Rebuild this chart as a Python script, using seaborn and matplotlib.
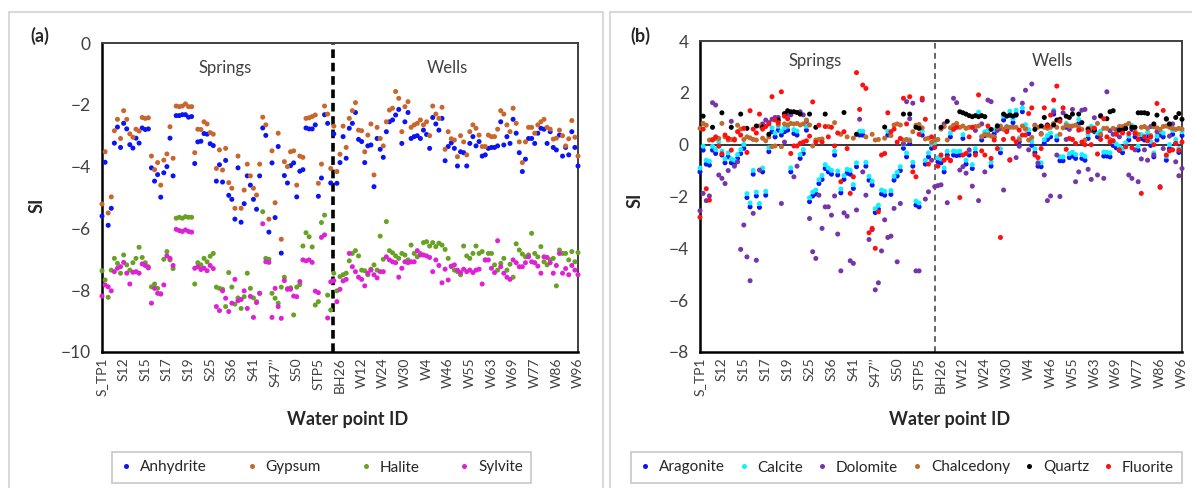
import numpy as np
import pandas as pd
import matplotlib
matplotlib.use("Agg")
import matplotlib.pyplot as plt
from matplotlib.lines import Line2D
from matplotlib.patches import Rectangle
import seaborn as sns

# --- Data: saturation indices ---
tick_labels = ["S_TP1", "S12", "S15", "S17", "S19", "S25", "S36", "S41", "S47\u2019\u2019",
               "S50", "STP5", "BH26", "W12", "W24", "W30", "W4", "W46", "W55", "W63",
               "W69", "W77", "W86", "W96"]

# panel (a)
anh_springs = [-5.6, -3.86, -5.9, -5.35, -3.24, -2.72, -3.38, -2.6, -2.78, -3.29,
               -3.4, -3.08, -3.24, -2.75, -2.8, -2.78, -4.04, -4.47, -4.26, -4.99,
               -4.2, -4.0, -3.08, -4.3, -2.35, -2.35, -2.32, -2.32, -2.4, -2.38,
               -3.9, -3.2, -3.18, -2.93, -2.95, -3.26, -3.32, -4.47, -3.94, -4.5,
               -3.8, -4.93, -5.06, -5.7, -4.04, -5.8, -5.2, -4.3, -4.6, -5.06,
               -5.38, -4.3, -2.75, -2.99, -6.12, -3.88, -5.65, -3.35, -6.8, -4.29,
               -4.53, -3.97, -3.88, -4.98, -4.15, -4.1, -2.75, -2.78, -2.78, -2.65,
               -4.96, -4.37, -2.32, -2.6, -4.53]
anh_wells = [-2.94, -4.54, -3.87, -3.03, -3.73, -2.76, -2.6, -2.25, -3.12, -3.19,
             -3.87, -3.33, -3.3, -4.65, -3.09, -3.44, -3.7, -2.87, -2.55, -2.49,
             -2.33, -2.15, -3.25, -2.55, -2.25, -3.09, -3.03, -3.0, -3.09, -2.82,
             -2.96, -3.41, -2.41, -2.62, -2.82, -2.44, -3.81, -3.35, -3.23, -3.41,
             -3.98, -3.52, -3.55, -3.98, -3.25, -3.03, -3.33, -3.19, -3.66, -3.62,
             -3.41, -3.38, -3.38, -3.33, -2.55, -3.3, -3.03, -3.25, -2.47, -2.92,
             -3.55, -4.16, -3.76, -3.09, -3.09, -3.25, -2.92, -2.76, -2.79, -3.25,
             -2.87, -3.38, -3.46, -2.98, -3.66, -3.38, -3.62, -2.87, -3.38, -3.98]
gyp_springs = [-5.21, -3.52, -5.5, -4.98, -2.84, -2.47, -3.09, -2.19, -2.47, -2.94,
               -3.05, -2.79, -2.85, -2.41, -2.44, -2.42, -3.66, -4.1, -3.87, -4.6,
               -3.79, -3.59, -2.71, -3.73, -2.04, -2.06, -2.04, -1.97, -2.06, -2.06,
               -3.55, -2.79, -2.8, -2.55, -2.62, -2.9, -2.95, -4.06, -3.46, -4.11,
               -3.41, -4.52, -4.7, -5.35, -3.66, -5.35, -4.76, -3.92, -4.3, -4.7,
               -4.92, -3.92, -2.4, -2.65, -5.7, -3.49, -5.17, -2.92, -6.35, -3.84,
               -4.0, -3.52, -3.49, -4.6, -3.66, -3.7, -2.44, -2.42, -2.38, -2.33,
               -4.54, -3.92, -2.04, -2.3, -4.06]
gyp_wells = [-2.69, -4.16, -3.6, -2.69, -3.38, -2.44, -2.19, -1.93, -2.82, -2.84,
             -3.52, -2.98, -2.62, -4.27, -2.73, -3.09, -3.33, -2.55, -2.17, -2.11,
             -1.57, -1.79, -2.87, -2.06, -1.9, -2.73, -2.65, -2.6, -2.49, -2.65,
             -2.55, -3.0, -2.04, -2.3, -2.44, -2.08, -3.44, -2.87, -3.1, -3.14,
             -3.68, -3.0, -3.2, -3.62, -2.87, -2.65, -2.76, -2.98, -3.35, -3.35,
             -2.98, -3.03, -3.03, -2.79, -2.19, -2.3, -2.65, -2.87, -2.11, -2.6,
             -3.2, -3.87, -3.2, -2.73, -2.73, -2.92, -2.65, -2.55, -2.47, -2.73,
             -2.79, -3.11, -3.08, -2.82, -3.0, -3.33, -3.1, -2.51, -3.05, -3.66]
hal_springs = [-7.37, -7.67, -8.23, -7.35,
               -6.97, -7.13, -7.45, -6.86, -7.18, -7.35, -7.11, -6.97, -6.61, -6.94, -7.11, -7.24,
               -7.89, -7.8, -7.94, -8.12, -7.0, -6.75, -7.02, -7.3,
               -5.67, -5.64, -5.67, -5.62, -5.64, -5.64,
               -7.8, -7.11, -7.18, -6.97, -7.08, -6.9, -6.81,
               -7.9, -7.94, -7.97, -8.53, -7.43, -7.9, -8.45, -8.25, -8.59, -8.21, -7.45, -7.94,
               -8.25, -8.37, -8.1,
               -5.46, -6.97, -7.0,
               -8.1, -8.26, -8.42, -7.9, -7.58, -7.95, -7.92, -8.8, -7.9,
               -7.82, -6.57, -6.14, -6.27, -6.6, -8.48, -8.37, -5.81, -5.57, -8.16, -8.64]
hal_wells = [-7.45, -8.02, -7.56, -7.5, -7.45, -7.05, -6.81, -6.72, -6.89, -7.35,
             -7.37, -7.5, -7.32, -7.18, -7.35, -6.25, -7.0, -5.78, -6.72, -6.79,
             -6.89, -6.97, -6.81, -6.86, -7.02, -6.54, -6.81, -6.92, -6.81, -6.46,
             -6.43, -6.57, -6.46, -6.59, -6.48, -6.54, -6.68, -6.97, -7.24, -7.35,
             -7.4, -7.5, -6.57, -6.89, -6.97, -6.81, -6.57, -6.81, -6.75, -7.02,
             -6.81, -6.81, -7.18, -7.35, -7.13, -6.97, -7.35, -7.16, -7.58, -6.5,
             -6.7, -6.83, -6.92, -6.86, -6.16, -6.81, -6.92, -6.59, -7.08, -7.18,
             -7.02, -6.97, -7.86, -6.7, -6.81, -6.81, -7.02, -6.75, -7.08, -6.78]
syl_springs = [-8.19, -7.83, -7.89, -8.02,
               -7.4, -7.29, -7.24, -7.1, -7.45, -7.8, -7.42, -7.4, -7.45, -7.15, -7.2, -7.28,
               -8.42, -7.94, -8.1, -8.12, -7.83, -6.89, -6.97, -7.2,
               -6.03, -6.07, -6.1, -6.05, -6.1, -6.12,
               -7.29, -7.24, -7.33, -7.29, -7.37, -7.2, -7.3,
               -8.53, -8.66, -8.02, -8.26, -8.69, -8.42, -7.65, -8.34, -8.3, -8.02, -8.59, -8.2,
               -8.88, -8.4, -8.1,
               -5.85, -7.08, -7.1,
               -8.88, -7.94, -8.53, -8.91, -7.69, -7.97, -7.97, -8.19, -8.21,
               -7.72, -7.02, -7.05, -7.02, -7.1, -8.03, -8.08, -6.29, -6.21, -8.9, -7.73]
syl_wells = [-7.69, -8.37, -7.97, -7.7, -7.65, -6.81, -7.24, -7.4, -7.58, -7.65,
             -7.86, -7.45, -7.35, -7.5, -7.6, -7.4, -7.4, -6.92, -7.02, -7.08,
             -7.11, -7.58, -7.29, -7.08, -7.11, -7.08, -7.08, -6.72, -6.86, -6.86,
             -6.89, -6.94, -7.4, -7.02, -7.2, -7.76, -7.32, -7.67, -7.22, -7.18,
             -7.35, -7.43, -7.32, -7.4, -7.35, -7.43, -7.35, -7.32, -7.8, -7.02,
             -7.02, -7.29, -7.43, -6.4, -7.24, -7.45, -7.58, -7.65, -7.02, -7.11,
             -7.24, -7.24, -7.11, -6.92, -7.08, -7.11, -7.22, -7.45, -6.92, -6.94,
             -7.11, -7.45, -7.2, -6.81, -7.45, -7.3, -7.5, -7.2, -7.35, -7.5]

# panel (b)
ara_springs = [-1.05, -0.21, -0.75, -0.79, -0.21, -0.34, -0.05, -0.4, -0.7, -0.47,
               -0.7, -0.75, -0.53, -0.34, -0.14, -2.04, -2.4, -1.14, -1.98, -2.42,
               -1.05, -1.95, -0.27, 0.5, 0.3, 0.56, 0.37, 0.5, 0.56, -1.05,
               0.43, 0.37, -0.53, -0.34, 0.56, -2.2, -1.98, -1.9, -1.5, -1.34,
               -0.92, -1.05, -1.14, -0.4, -1.17, -1.86, -1.34, -1.1, -1.14, -1.69,
               -0.85, 0.37, 0.37, -0.83, -1.37, -1.56, -2.62, -2.49, -1.9, -1.95,
               0.37, -1.92, -1.37, -1.21, -1.0, -0.14, -0.47, 0.04, -0.83, -2.33,
               -2.4, 0.37, -0.75, -0.47, -0.14]
ara_wells = [-0.08, -0.66, -0.7, -1.05, -0.4, 0.3, -0.4, -0.42, -0.4, 0.24,
             -0.75, -0.4, -0.92, -0.31, 1.1, 0.18, 0.35, 0.4, -0.83, 0.42,
             0.59, -0.31, 0.95, 0.56, 1.14, 0.85, 1.18, 0.11, 1.27, 0.62,
             0.43, -0.03, -0.31, -0.83, -0.85, 0.05, 0.2, 0.3, 1.18, 0.18,
             -0.62, -0.62, 0.67, -0.5, -0.44, -0.53, 0.82, -0.53, -0.6, 0.24,
             0.56, 0.5, 0.3, 0.37, -0.44, -0.44, -0.47, -0.03, -0.12, -0.22,
             -0.31, -0.08, 0.18, 0.59, 0.3, -0.21, 0.24, 0.18, 0.33, -0.03,
             -0.47, 0.18, 0.37, 0.3, -0.6, -0.15, 0.4, 0.05, -0.3, 0.35]
cal_springs = [-0.9, -0.06, -0.6, -0.64, -0.06, -0.19, 0.1, -0.25, -0.55, -0.32,
               -0.55, -0.6, -0.38, -0.19, 0.01, -1.89, -2.25, -0.99, -1.83, -2.27,
               -0.9, -1.8, -0.12, 0.65, 0.45, 0.71, 0.52, 0.65, 0.71, -0.9,
               0.58, 0.52, -0.38, -0.19, 0.71, -2.05, -1.83, -1.75, -1.35, -1.19,
               -0.77, -0.9, -0.99, -0.25, -1.02, -1.71, -1.19, -0.95, -0.99, -1.54,
               -0.7, 0.52, 0.52, -0.68, -1.22, -1.41, -2.47, -2.34, -1.75, -1.8,
               0.52, -1.77, -1.22, -1.06, -0.85, 0.01, -0.32, 0.19, -0.68, -2.18,
               -2.25, 0.52, -0.6, -0.32, 0.01]
cal_wells = [0.07, -0.51, -0.55, -0.9, -0.25, 0.45, -0.25, -0.27, -0.25, 0.39,
             -0.6, -0.25, -0.77, -0.16, 1.25, 0.33, 0.5, 0.55, -0.68, 0.57,
             0.74, -0.16, 1.1, 0.71, 1.29, 1.0, 1.33, 0.26, 1.42, 0.77,
             0.58, 0.12, -0.16, -0.68, -0.7, 0.2, 0.35, 0.45, 1.33, 0.33,
             -0.47, -0.47, 0.82, -0.35, -0.29, -0.38, 0.97, -0.38, -0.45, 0.39,
             0.71, 0.65, 0.45, 0.52, -0.29, -0.29, -0.32, 0.12, 0.03, -0.07,
             -0.16, 0.07, 0.33, 0.74, 0.45, -0.06, 0.39, 0.33, 0.48, 0.12,
             -0.32, 0.33, 0.52, 0.45, -0.45, 0.0, 0.55, 0.2, -0.15, 0.5]
dol_springs = [-2.55, -1.88, -2.16, -1.98, 1.62, 1.53, -1.17, -1.3, -1.5, -1.0,
               0.9, -0.83, -0.66, -4.04, -3.1, -4.33, -5.25, -2.65, -4.46, -0.98,
               0.8, 0.95, 0.85, 0.98, 1.05, 1.05, -2.27, 0.1, 1.18, 1.15,
               -1.24, -0.83, 1.27, 1.15, 0.9, -2.85, -4.13, -4.39, -1.95, -3.23,
               -2.4, -2.4, -2.72, -1.98, -3.45, -4.87, -2.63, -2.76, -4.48, -4.58,
               -2.52, 0.98, -1.05, -1.95, -3.66, -3.28, -5.6, -5.33, -4.1, -2.9,
               -3.58, -3.53, -2.46, -4.52, -2.27, 0.04, 1.66, 1.0, 1.6, -4.87,
               -4.87, 1.72, -2.1, -1.82, -0.6]
dol_wells = [-1.62, -1.58, -1.55, 0.8, -2.24, -0.6, 1.79, 1.62, -0.98, -0.85,
             -1.1, -0.2, -1.6, 0.55, -2.16, 0.8, -1.05, 1.72, 1.66, 0.3,
             0.55, 0.62, -1.75, 0.68, -0.6, 1.75, -0.5, -0.06, 1.6, 2.1,
             -0.2, 2.34, 0.75, -0.72, 0.43, -1.17, -2.16, -1.98, 1.27, -0.4,
             -2.0, 1.23, 0.2, 0.59, 1.36, -1.43, -1.05, 1.33, 1.36, -0.95,
             -1.34, 1.04, -1.17, 1.13, -1.3, 2.04, 0.54, 0.4, 0.58, 0.3,
             0.58, 0.62, -1.17, -1.3, -0.2, -1.43, -0.55, -0.2, -0.6, 0.7,
             -0.4, 0.5, -1.62, -0.15, 0.98, 0.33, 0.8, -0.66, -1.2, -0.92]
chd_springs = [0.63, 0.82, 0.75, 0.18, 0.2, 0.24, 0.24, 0.82, 0.3, 0.18,
               0.2, 0.22, 0.75, 0.6, 0.2, 0.3, 0.26, 0.2, 0.18, 0.72,
               0.25, 0.15, 0.3, -0.08, -0.05, 0.78, -0.08, 0.8, 0.76, 0.82,
               0.8, 0.82, 0.76, 0.8, 0.95, 0.76, -0.05, 0.18, 0.2, 0.22,
               None, 0.7, None, 0.85, None, 0.4, None, 0.3, None, 0.25,
               None, None, None, 0.3, None, 0.4, 0.18, 0.2, None, 0.25,
               None, 0.35, 0.76, 0.8, 0.76, 0.18, 0.2, 0.15, 0.5, 0.75,
               0.78, 0.65, 0.22, 0.25, 0.09]
chd_wells = [0.18, 0.2, 0.6, 0.7, 0.18, 0.65, 0.75, 0.82, 0.67, 0.72,
             0.63, 0.67, 0.67, 0.7, 0.72, 0.3, 0.4, 0.37, 0.33, 0.3,
             0.67, 0.72, 0.59, 0.67, 0.67, 0.67, 0.67, 0.2, 0.72, 0.6,
             0.18, 0.28, 0.72, 0.67, 0.4, 0.67, 0.63, 0.67, 0.82, 0.67,
             0.4, 0.65, 0.75, 0.72, 0.72, 0.75, 0.67, 0.59, 0.18, 0.63,
             0.63, 0.54, 0.82, 0.4, 0.63, 0.63, 0.2, 0.63, 0.45, 0.7,
             0.7, 0.75, 0.82, 0.67, 0.5, 0.4, 0.67, 0.7, 0.63, 0.35,
             0.69, 0.65, 0.59, 0.7, 0.72, 0.67, 0.63, 0.59, 0.63, 0.6]
qtz_springs = [None, 1.1, None, None, 0.67, None, None, 1.23, None, None,
               0.67, None, None, 1.18, None, 0.63, None, None, 0.72, None,
               0.68, None, 0.4, None, None, 0.95, None, 1.2, 1.31, 1.27,
               1.27, 1.24, 1.18, None, None, 1.18, None, 0.67, None, None,
               1.18, None, None, None, None, None, 1.24, None, None, None,
               0.4, None, None, None, None, None, None, None, None, 0.68,
               None, None, None, None, None, 1.18, None, 1.18, None, 0.67,
               0.63, None, None, None, None]
qtz_wells = [None, None, 0.67, None, 0.9, None, None, None, 1.27, 1.23,
             1.18, 1.12, 1.08, 1.12, 1.08, 1.12, 1.08, None, 0.59, None,
             0.72, None, 1.18, 1.1, 1.14, 1.1, 1.14, None, None, None,
             None, None, 0.59, None, 0.72, 1.05, 0.76, None, 0.76, 0.95,
             0.98, None, 1.1, 1.05, 1.18, None, 1.18, 0.85, None, 0.59,
             None, 0.56, None, 1.1, None, 1.0, 1.27, 1.31, None, 0.56,
             0.56, 0.63, None, 0.67, 0.67, 1.23, 1.23, 1.23, 1.2, None,
             0.8, 1.14, None, None, 1.0, 0.8, None, 1.05, 1.2, 0.98]
flu_springs = [-2.8, 0.6, -1.7, -2.14, 0.18, 0.3, -0.05, -0.35, 0.37, 0.25,
               -0.21, 0.18, 0.5, 0.37, 0.63, -0.3, 1.31, 0.6, 0.45, 1.18,
               0.6, 0.7, 0.8, 1.85, 0.95, 0.85, 2.04, 1.1, 1.0, -0.34,
               -0.05, -0.05, 0.05, 0.1, 0.15, 0.33, 1.65, 0.1, 0.75, 0.1,
               0.7, 0.3, 0.67, -0.05, 0.45, -1.43, 0.5, -0.15, -1.88, -1.24,
               2.78, 1.36, 2.3, 2.17, -3.4, -3.23, -4.0, -2.59, -0.4, -0.34,
               1.23, 0.5, 0.6, 0.1, 0.24, 1.79, 0.8, 1.85, -1.05, -1.24,
               0.4, 1.79, 0.98, -0.75, 0.3]
flu_wells = [-0.1, -0.83, -0.4, -0.6, -0.5, -0.62, 0.59, 0.67, -2.04, -0.4,
             -0.34, 0.3, 0.67, -0.4, 1.92, -0.24, -0.4, 0.72, -0.53, 0.18,
             -0.15, -3.58, 0.2, 0.5, -0.58, 0.24, 0.11, 0.56, 0.37, 0.37,
             1.2, 1.42, -0.4, -0.5, -0.15, 1.42, 0.72, 1.14, 1.72, 2.26,
             0.9, 1.42, -0.18, 0.24, 0.2, 0.05, 0.56, 0.1, 0.0, 0.5,
             0.0, 0.63, -0.36, 0.2, 1.0, 0.3, 0.1, 0.15, 0.4, -0.2,
             0.45, -0.08, 0.43, -0.12, 0.43, 0.2, -1.88, 0.3, 0.15, 0.3,
             0.0, 1.59, -1.65, 1.32, -0.4, -0.24, -0.2, 0.05, -0.22, 0.1]

# --- Build long-form frames ---
WELLS_START = 75
N_POINTS = 155


def long_frame(series):
    parts = []
    for name, springs, wells in series:
        pos = list(range(len(springs))) + [WELLS_START + i for i in range(len(wells))]
        vals = [np.nan if v is None else v for v in list(springs) + list(wells)]
        parts.append(pd.DataFrame({"pos": pos, "SI": vals, "Mineral": name}))
    return pd.concat(parts, ignore_index=True).dropna()


series_a = [("Anhydrite", anh_springs, anh_wells), ("Gypsum", gyp_springs, gyp_wells),
            ("Halite", hal_springs, hal_wells), ("Sylvite", syl_springs, syl_wells)]
series_b = [("Aragonite", ara_springs, ara_wells), ("Calcite", cal_springs, cal_wells),
            ("Dolomite", dol_springs, dol_wells), ("Chalcedony", chd_springs, chd_wells),
            ("Quartz", qtz_springs, qtz_wells), ("Fluorite", flu_springs, flu_wells)]
df_a = long_frame(series_a)
df_b = long_frame(series_b)

colors_a = {"Anhydrite": "#0a14f5", "Gypsum": "#c8662c", "Halite": "#68a222", "Sylvite": "#e020d4"}
colors_b = {"Aragonite": "#0a14f5", "Calcite": "#10f0ff", "Dolomite": "#7635a8",
            "Chalcedony": "#c06a2e", "Quartz": "#000000", "Fluorite": "#ff1010"}

# --- Figure ---
sns.set_style("white")
plt.rcParams["font.family"] = ["Lato", "DejaVu Sans"]

fig = plt.figure(figsize=(11.92, 4.88), dpi=100)
W, H = 1192.0, 488.0

# panel frames
fig.add_artist(Rectangle((9 / W, -0.02), 594 / W, 1 - 12 / H + 0.02, transform=fig.transFigure,
                         fill=False, edgecolor="#d9d9d9", lw=1.5))
fig.add_artist(Rectangle((610 / W, -0.02), 600 / W, 1 - 12 / H + 0.02, transform=fig.transFigure,
                         fill=False, edgecolor="#d9d9d9", lw=1.5))

ax_a = fig.add_axes([102 / W, 1 - 352 / H, 476 / W, 309 / H])
ax_b = fig.add_axes([700 / W, 1 - 352 / H, 482 / W, 311 / H])


def style_axes(ax, ylim, major, minor):
    ax.set_xlim(0, N_POINTS - 1)
    ax.set_ylim(*ylim)
    ax.set_yticks(major)
    ax.set_yticks(minor, minor=True)
    ax.set_xticks(np.arange(0, N_POINTS, 7))
    ax.set_xticklabels(tick_labels, rotation=90, fontsize=10, color="#404040")
    ax.tick_params(axis="y", which="both", direction="out", length=5, width=1.2,
                   color="black", labelsize=12.5, labelcolor="#404040", pad=3)
    ax.tick_params(axis="x", length=0, pad=4)
    for side in ["left", "bottom"]:
        ax.spines[side].set_color("black")
        ax.spines[side].set_linewidth(1.8)
    for side in ["top", "right"]:
        ax.spines[side].set_color("#404040")
        ax.spines[side].set_linewidth(1.4)
    ax.set_xlabel("")
    ax.set_ylabel("")


sns.scatterplot(data=df_a, x="pos", y="SI", hue="Mineral", palette=colors_a, s=13,
                linewidth=0, legend=False, ax=ax_a, clip_on=False, zorder=3)
style_axes(ax_a, (-10, 0), np.arange(-10, 1, 2), np.arange(-9, 0, 2))
ax_a.axvline(74.8, color="black", lw=2.6, ls=(0, (2.4, 1.3)), zorder=2)
ax_a.text(0.258, 0.918, "Springs", transform=ax_a.transAxes, ha="center", va="center",
          fontsize=12, color="#404040")
ax_a.text(0.725, 0.918, "Wells", transform=ax_a.transAxes, ha="center", va="center",
          fontsize=12, color="#404040")

sns.scatterplot(data=df_b, x="pos", y="SI", hue="Mineral", palette=colors_b, s=13,
                linewidth=0, legend=False, ax=ax_b, clip_on=False, zorder=3)
style_axes(ax_b, (-8, 4), np.arange(-8, 5, 2), np.arange(-7, 4, 2))
ax_b.axhline(0, color="black", lw=1.1, zorder=2)
ax_b.axvline(75.0, color="#595959", lw=1.3, ls=(0, (3.2, 2.4)), zorder=2)
ax_b.text(0.239, 0.937, "Springs", transform=ax_b.transAxes, ha="center", va="center",
          fontsize=12, color="#404040")
ax_b.text(0.73, 0.937, "Wells", transform=ax_b.transAxes, ha="center", va="center",
          fontsize=12, color="#404040")

# panel letters and axis titles
fig.text(40 / W, 1 - 36 / H, "(a)", fontsize=13, fontweight="bold", ha="center", va="center")
fig.text(640 / W, 1 - 36 / H, "(b)", fontsize=13, fontweight="bold", ha="center", va="center")
fig.text(37 / W, 1 - 205 / H, "SI", fontsize=13, fontweight="bold", rotation=90,
         ha="center", va="center")
fig.text(635 / W, 1 - 200 / H, "SI", fontsize=13, fontweight="bold", rotation=90,
         ha="center", va="center")
fig.text(348 / W, 1 - 420 / H, "Water point ID", fontsize=13, fontweight="bold",
         ha="center", va="center")
fig.text(950 / W, 1 - 420 / H, "Water point ID", fontsize=13, fontweight="bold",
         ha="center", va="center")


def make_legend(colors, box):
    handles = [Line2D([], [], ls="", marker="o", markersize=3.6, markeredgewidth=0,
                      color=c) for c in colors.values()]
    leg = fig.legend(handles, list(colors.keys()), loc="center", bbox_to_anchor=box,
                     mode="expand", ncol=len(colors), frameon=True, fancybox=False,
                     edgecolor="#bfbfbf", fontsize=11, handlelength=0.8,
                     handletextpad=0.5, borderpad=0.55, columnspacing=0.6)
    leg.get_frame().set_linewidth(1.3)
    for t in leg.get_texts():
        t.set_color("#262626")
    return leg


make_legend(colors_a, (104 / W, 1 / H, 435 / W, 39 / H))
make_legend(colors_b, (623 / W, 1 / H, 567 / W, 39 / H))

fig.savefig("out.png", dpi=100)
